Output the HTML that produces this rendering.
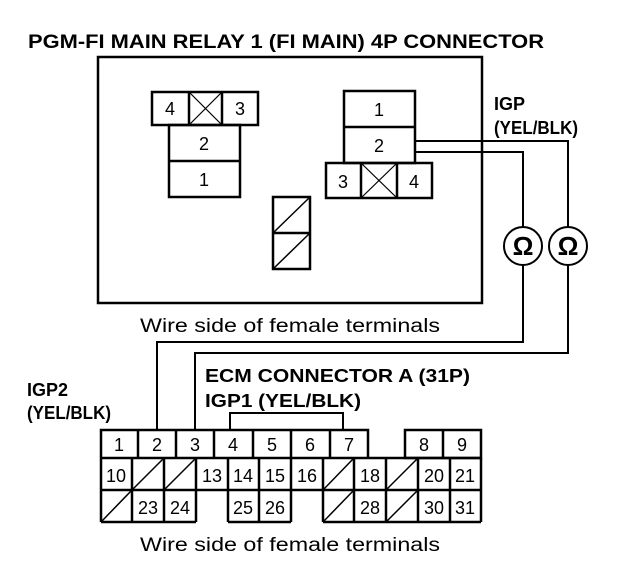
<!DOCTYPE html>
<html><head><meta charset="utf-8"><style>
html,body{margin:0;padding:0;background:#fff;}
svg{display:block;}
text{font-family:"Liberation Sans",sans-serif;fill:#000;}
.b{font-weight:bold;font-size:18px;}
.n{font-size:18px;text-anchor:middle;}
.w{font-size:19px;}
</style></head><body>
<svg width="640" height="580" viewBox="0 0 640 580" xmlns="http://www.w3.org/2000/svg">
<g stroke="#000" fill="none" stroke-width="2.5">
<rect x="98" y="57" width="384" height="246"/>
<rect x="152" y="92" width="106" height="33"/>
<line x1="189" y1="92" x2="189" y2="125"/><line x1="222" y1="92" x2="222" y2="125"/>
<line x1="189" y1="92" x2="222" y2="125" stroke-width="1.2"/><line x1="222" y1="92" x2="189" y2="125" stroke-width="1.2"/>
<rect x="169" y="125" width="71" height="72"/>
<line x1="169" y1="161" x2="240" y2="161"/>
<rect x="273" y="197" width="37" height="72"/>
<line x1="273" y1="233" x2="310" y2="233"/>
<line x1="273" y1="233" x2="310" y2="197" stroke-width="1.5"/>
<line x1="273" y1="269" x2="310" y2="233" stroke-width="1.5"/>
<rect x="344" y="91" width="71" height="72"/>
<line x1="344" y1="127" x2="415" y2="127"/>
<rect x="326" y="163" width="106" height="35"/>
<line x1="361" y1="163" x2="361" y2="198"/><line x1="397" y1="163" x2="397" y2="198"/>
<line x1="361" y1="163" x2="397" y2="198" stroke-width="1.2"/><line x1="397" y1="163" x2="361" y2="198" stroke-width="1.2"/>
<polyline points="415,141 568,141 568,227" stroke-width="2"/>
<polyline points="415,152 523,152 523,227" stroke-width="2"/>
<circle cx="523" cy="246" r="19" stroke-width="2"/>
<circle cx="568" cy="246" r="19" stroke-width="2"/>
<polyline points="523,265 523,342 157,342 157,430" stroke-width="2"/>
<polyline points="568,265 568,353 195,353 195,430" stroke-width="2"/>
<polyline points="230,430 230,413 343,413 343,430" stroke-width="2"/>
<polyline points="101,522 101,430 368,430 368,458"/>
<rect x="405" y="430" width="76" height="28"/>
<line x1="101" y1="458" x2="481" y2="458"/>
<line x1="101" y1="490" x2="481" y2="490"/>
<line x1="481" y1="458" x2="481" y2="522"/>
<line x1="101" y1="522" x2="196" y2="522"/>
<line x1="228" y1="522" x2="291" y2="522"/>
<line x1="323" y1="522" x2="481" y2="522"/>
<line x1="196" y1="490" x2="196" y2="522"/>
<line x1="228" y1="490" x2="228" y2="522"/>
<line x1="291" y1="490" x2="291" y2="522"/>
<line x1="323" y1="490" x2="323" y2="522"/>
<line x1="138" y1="430" x2="138" y2="458"/><line x1="176" y1="430" x2="176" y2="458"/>
<line x1="214" y1="430" x2="214" y2="458"/><line x1="253" y1="430" x2="253" y2="458"/>
<line x1="291" y1="430" x2="291" y2="458"/><line x1="330" y1="430" x2="330" y2="458"/>
<line x1="443" y1="430" x2="443" y2="458"/>
<line x1="132" y1="458" x2="132" y2="490"/><line x1="164" y1="458" x2="164" y2="490"/>
<line x1="196" y1="458" x2="196" y2="490"/><line x1="228" y1="458" x2="228" y2="490"/>
<line x1="259" y1="458" x2="259" y2="490"/><line x1="291" y1="458" x2="291" y2="490"/>
<line x1="323" y1="458" x2="323" y2="490"/><line x1="354" y1="458" x2="354" y2="490"/>
<line x1="386" y1="458" x2="386" y2="490"/><line x1="418" y1="458" x2="418" y2="490"/>
<line x1="450" y1="458" x2="450" y2="490"/>
<line x1="132" y1="490" x2="132" y2="522"/><line x1="164" y1="490" x2="164" y2="522"/>
<line x1="259" y1="490" x2="259" y2="522"/>
<line x1="354" y1="490" x2="354" y2="522"/><line x1="386" y1="490" x2="386" y2="522"/>
<line x1="418" y1="490" x2="418" y2="522"/><line x1="450" y1="490" x2="450" y2="522"/>
<g stroke-width="1.5">
<line x1="132" y1="490" x2="164" y2="458"/><line x1="164" y1="490" x2="196" y2="458"/>
<line x1="323" y1="490" x2="354" y2="458"/><line x1="386" y1="490" x2="418" y2="458"/>
<line x1="101" y1="522" x2="132" y2="490"/><line x1="323" y1="522" x2="354" y2="490"/>
<line x1="386" y1="522" x2="418" y2="490"/>
</g>
</g>
<text class="b" x="28" y="48" style="font-size:19px" textLength="516" lengthAdjust="spacingAndGlyphs">PGM-FI MAIN RELAY 1 (FI MAIN) 4P CONNECTOR</text>
<text x="170" y="115" class="n">4</text><text x="240" y="115" class="n">3</text>
<text x="204" y="150" class="n">2</text><text x="204" y="186" class="n">1</text>
<text x="379" y="116" class="n">1</text><text x="379" y="152" class="n">2</text>
<text x="343" y="188" class="n">3</text><text x="414" y="188" class="n">4</text>
<text x="523" y="255" class="n" style="font-size:26px;font-weight:bold">Ω</text>
<text x="568" y="255" class="n" style="font-size:26px;font-weight:bold">Ω</text>
<text class="b" x="494" y="110">IGP</text>
<text class="b" x="494" y="134" textLength="84" lengthAdjust="spacingAndGlyphs">(YEL/BLK)</text>
<text class="w" x="140" y="332" textLength="300" lengthAdjust="spacingAndGlyphs">Wire side of female terminals</text>
<text class="b" x="205" y="382" textLength="265" lengthAdjust="spacingAndGlyphs">ECM CONNECTOR A (31P)</text>
<text class="b" x="205" y="407" textLength="156" lengthAdjust="spacingAndGlyphs">IGP1 (YEL/BLK)</text>
<text class="b" x="27" y="396">IGP2</text>
<text class="b" x="27" y="419" textLength="84" lengthAdjust="spacingAndGlyphs">(YEL/BLK)</text>
<text class="n" x="119" y="451">1</text><text class="n" x="157" y="451">2</text><text class="n" x="195" y="451">3</text>
<text class="n" x="233" y="451">4</text><text class="n" x="272" y="451">5</text><text class="n" x="310" y="451">6</text>
<text class="n" x="349" y="451">7</text><text class="n" x="424" y="451">8</text><text class="n" x="462" y="451">9</text>
<text class="n" x="116" y="482">10</text><text class="n" x="212" y="482">13</text><text class="n" x="243" y="482">14</text>
<text class="n" x="275" y="482">15</text><text class="n" x="307" y="482">16</text><text class="n" x="370" y="482">18</text>
<text class="n" x="434" y="482">20</text><text class="n" x="465" y="482">21</text>
<text class="n" x="148" y="514">23</text><text class="n" x="180" y="514">24</text><text class="n" x="243" y="514">25</text>
<text class="n" x="275" y="514">26</text><text class="n" x="370" y="514">28</text><text class="n" x="434" y="514">30</text>
<text class="n" x="465" y="514">31</text>
<text class="w" x="140" y="551" textLength="300" lengthAdjust="spacingAndGlyphs">Wire side of female terminals</text>
</svg>
</body></html>
